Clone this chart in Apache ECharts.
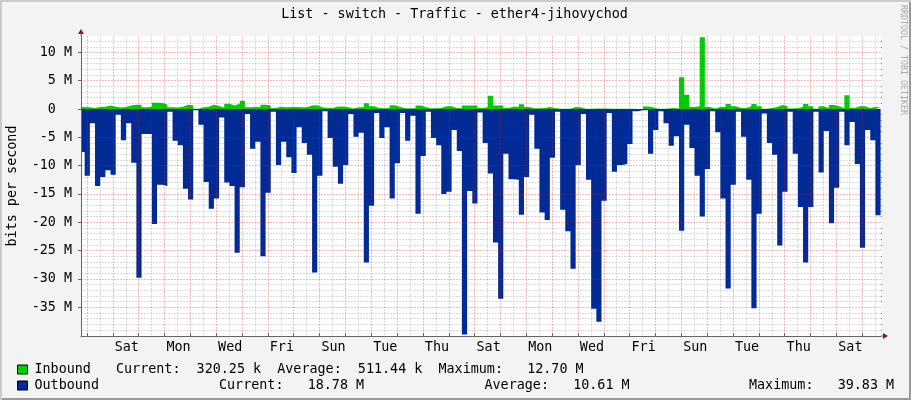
<!DOCTYPE html>
<html>
<head>
<meta charset="utf-8">
<title>ether4-jihovychod</title>
<script src="https://cdn.jsdelivr.net/npm/echarts@6/dist/echarts.min.js"></script>
<style>
html,body{margin:0;padding:0;background:#f3f3f3}
#wrap{width:911px;height:400px;background:#f3f3f3;box-shadow:inset 2px 2px 0 #cbcbcb,inset -2px -2px 0 #999}
#main{width:911px;height:400px}
</style>
</head>
<body>
<div id="wrap"><div id="main"></div></div>
<script>
// megabits per second, one value per sample
var inbound = [.35,.3,.2,.35,.4,.6,.4,.25,.35,.6,.75,.75,.3,.4,1.1,1.05,.8,.3,.25,.4,
	.75,.65,.05,.3,.4,.75,.55,.25,.95,.6,.95,1.45,.3,.35,.35,.75,.6,.2,.4,.3,
	.35,.35,.3,.3,.6,.65,.3,.2,.2,.45,.45,.3,.1,.3,.3,1,.5,.2,.15,.2,
	.65,.4,.15,.15,.15,.6,.35,.15,.15,.2,.5,.5,.2,.15,.6,.6,.6,.2,.3,2.35,
	.6,.6,.2,.4,.4,.85,.35,.15,.15,.2,.35,.2,.05,.05,.05,.35,.3,.05,.05,.1,
	.1,.1,.05,.05,.05,.05,.05,0,0,.45,.3,.05,.05,.1,.2,.1,5.6,2.5,.35,.5,
	12.7,.35,.1,.35,.35,.9,.5,.2,.2,.5,.9,.5,.05,.2,.35,.7,.5,.1,.2,.35,
	.9,.5,.05,.5,.2,.7,.5,.2,2.45,.2,.5,.5,.2,.35,.32]
var outbound = [7.6,11.8,2.5,13.6,12,10.8,11.6,1,5.5,2.5,9.5,29.8,4.4,4.4,20.3,13.4,13.6,.5,5.6,6.4,
	14.1,16,.2,2.8,12.9,17.6,15.8,1.5,13,13.6,25.4,13.8,.9,7,5.8,26,14.8,.5,9.9,5.8,
	8.5,11.3,3.2,6,8.1,28.9,11.8,.4,5.1,10.2,13.2,9.9,.9,4.9,4.2,27.1,17.1,.7,5.1,3.2,
	15.8,9.6,.7,5.6,1.2,18.5,8.3,.5,5.1,6.4,15,14.6,3.7,7.4,39.83,14.5,16.7,.6,6,11.4,
	23.6,33.5,7.9,12.4,12.5,18.7,12,1,7,18.3,19.6,8.6,.5,17.8,21.6,28.2,9.9,.9,12.5,35.3,
	37.6,16.2,.7,11.1,9.9,9.7,6.2,.4,.2,.2,7.9,3.7,.4,2.5,6.5,4.8,21.5,2.8,6.9,11.8,
	19,10.6,.4,4.1,15.8,31.7,13.4,.5,4.9,12.5,35.2,18.5,.8,6,8.1,24.1,14.6,.5,7.9,17.3,
	27.1,17.3,.5,11.2,3.9,20.2,13.9,.5,6.4,2.3,9.7,24.5,3.7,5.5,18.78]
var dayLabels = ['Sat','Mon','Wed','Fri','Sun','Tue','Thu','Sat','Mon','Wed','Fri','Sun','Tue','Thu','Sat']
var yTicks = [10,5,0,-5,-10,-15,-20,-25,-30,-35]
var chartTitle = 'List - switch - Traffic - ether4-jihovychod'
var yName = 'bits per second'
var inboundStats = 'Current:  320.25 k  Average:  511.44 k  Maximum:   12.70 M'
var outboundStats = ['Current:   18.78 M','Average:   10.61 M','Maximum:   39.83 M']
var credit = 'RRDTOOL / TOBI OETIKER'

var MONO = '"DejaVu Sans Mono", monospace'
var FS = 13.4
var RED_GRID = 'rgba(220,30,30,.3)', GRAY_GRID = 'rgba(60,60,60,.18)'
// x axis is in hours from the first midnight on the graph
var PX_PER_H = 25.84/24
var XMIN = (81-87)/PX_PER_H, XMAX = (881-87)/PX_PER_H
var SAMPLE_H = 4.8, FIRST_EDGE = -2.14-SAMPLE_H

function toSteps(values, sign){
	var pts = values.map(function(v,i){ return [FIRST_EDGE+i*SAMPLE_H, sign*v] })
	pts.push([FIRST_EDGE+values.length*SAMPLE_H, sign*values[values.length-1]])
	return pts
}

var days = [], halfDays = [], dayLabelAt = []
for(var d=0; d<=30; d++){
	days.push(d*24)
	halfDays.push(d*24+12)
}
dayLabels.forEach(function(n,i){ dayLabelAt.push(37+48*i) })

var yMinor = []
for(var m=-40; m<=12; m++){ if(m%5!==0) yMinor.push(m) }

var baseX = {type:'value',min:XMIN,max:XMAX,position:'bottom',z:5,axisLine:{onZero:false,show:false},axisLabel:{show:false},axisTick:{show:false},splitLine:{show:false}}
var baseY = {type:'value',min:-40.1,max:12.9,z:5,axisLine:{onZero:false,show:false},axisLabel:{show:false},axisTick:{show:false},splitLine:{show:false}}

var chart = echarts.init(document.getElementById('main'),null,{renderer:'canvas'})
chart.setOption({
	animation:false,
	backgroundColor:'transparent',
	textStyle:{fontFamily:MONO},
	title:[
		{text:chartTitle,left:454.5,textAlign:'center',top:8,padding:0,textStyle:{fontFamily:MONO,fontSize:FS,fontWeight:'normal',color:'#000'}},
		{text:inboundStats,left:116,top:363,padding:0,textStyle:{fontFamily:MONO,fontSize:FS,fontWeight:'normal',color:'#000'}},
		{text:outboundStats[0],left:219,top:379,padding:0,textStyle:{fontFamily:MONO,fontSize:FS,fontWeight:'normal',color:'#000'}},
		{text:outboundStats[1],left:484.5,top:379,padding:0,textStyle:{fontFamily:MONO,fontSize:FS,fontWeight:'normal',color:'#000'}},
		{text:outboundStats[2],left:749,top:379,padding:0,textStyle:{fontFamily:MONO,fontSize:FS,fontWeight:'normal',color:'#000'}}
	],
	legend:{
		left:17,top:363,padding:0,orient:'vertical',itemWidth:10,itemHeight:9,itemGap:3,icon:'rect',
		selectedMode:false,data:['Inbound','Outbound'],
		itemStyle:{borderColor:'#000',borderWidth:1},
		textStyle:{fontFamily:MONO,fontSize:FS,color:'#000',padding:[0,0,0,2]}
	},
	grid:{left:81,top:36,width:800,height:300,show:true,backgroundColor:'#fff',borderWidth:0,outerBoundsMode:'none'},
	xAxis:[
		Object.assign({},baseX,{
			axisLine:{onZero:false,show:true,lineStyle:{color:'#666',width:1}},
			axisTick:{show:true,inside:true,length:3,customValues:days,lineStyle:{color:'#666'}},
			splitLine:{show:true,lineStyle:{color:RED_GRID,type:[2,1]}}
		}),
		Object.assign({},baseX,{
			axisTick:{show:false,customValues:halfDays},
			splitLine:{show:true,lineStyle:{color:GRAY_GRID,type:[2,1]}}
		}),
		Object.assign({},baseX,{
			axisLabel:{show:true,customValues:dayLabelAt,margin:5,color:'#000',fontFamily:MONO,fontSize:FS,
				hideOverlap:false,showMinLabel:true,showMaxLabel:true,
				formatter:function(v){ return dayLabels[dayLabelAt.indexOf(v)] }}
		})
	],
	yAxis:[
		Object.assign({},baseY,{
			name:yName,nameLocation:'middle',nameGap:62,nameRotate:90,
			nameTextStyle:{fontFamily:MONO,fontSize:FS,color:'#000'},
			axisLine:{onZero:false,show:true,lineStyle:{color:'#666',width:1}},
			axisTick:{show:true,length:3,customValues:yTicks,lineStyle:{color:'#666'}},
			axisLabel:{show:true,customValues:yTicks,margin:9,color:'#000',fontFamily:MONO,fontSize:FS,padding:[4,0,0,0],
				formatter:function(v){ return v===0 ? '0  ' : v+' M' }},
			splitLine:{show:true,lineStyle:{color:RED_GRID,type:[2,1]}}
		}),
		Object.assign({},baseY,{
			axisTick:{show:true,length:1,customValues:yMinor,lineStyle:{color:'#888'}},
			splitLine:{show:true,lineStyle:{color:GRAY_GRID,type:[2,1]}}
		})
	],
	series:[
		{name:'Inbound',type:'line',step:'end',symbol:'none',data:toSteps(inbound,1),
			lineStyle:{width:0},itemStyle:{color:'#00cf00'},areaStyle:{color:'#00cf00',opacity:1},z:2},
		{name:'Outbound',type:'line',step:'end',symbol:'none',data:toSteps(outbound,-1),
			lineStyle:{width:0},itemStyle:{color:'#002a97'},areaStyle:{color:'#002a97',opacity:1},z:2}
	],
	graphic:[
		{type:'polyline',shape:{points:[[881,336],[884,336]]},style:{stroke:'#666',fill:null},z:6},
		{type:'polyline',shape:{points:[[81,36],[81,33]]},style:{stroke:'#666',fill:null},z:6},
		{type:'polygon',shape:{points:[[883,333],[888,336],[883,339]]},style:{fill:'#7f1f1f'},z:7},
		{type:'polygon',shape:{points:[[78,34],[81,29],[84,34]]},style:{fill:'#7f1f1f'},z:7},
		{type:'text',x:903,y:60,rotation:-Math.PI/2,style:{text:credit,fontFamily:MONO,fontSize:8.3,fill:'#aaa',align:'center',verticalAlign:'middle'}}
	]
})
window.onresize = chart.resize
</script>
</body>
</html>
